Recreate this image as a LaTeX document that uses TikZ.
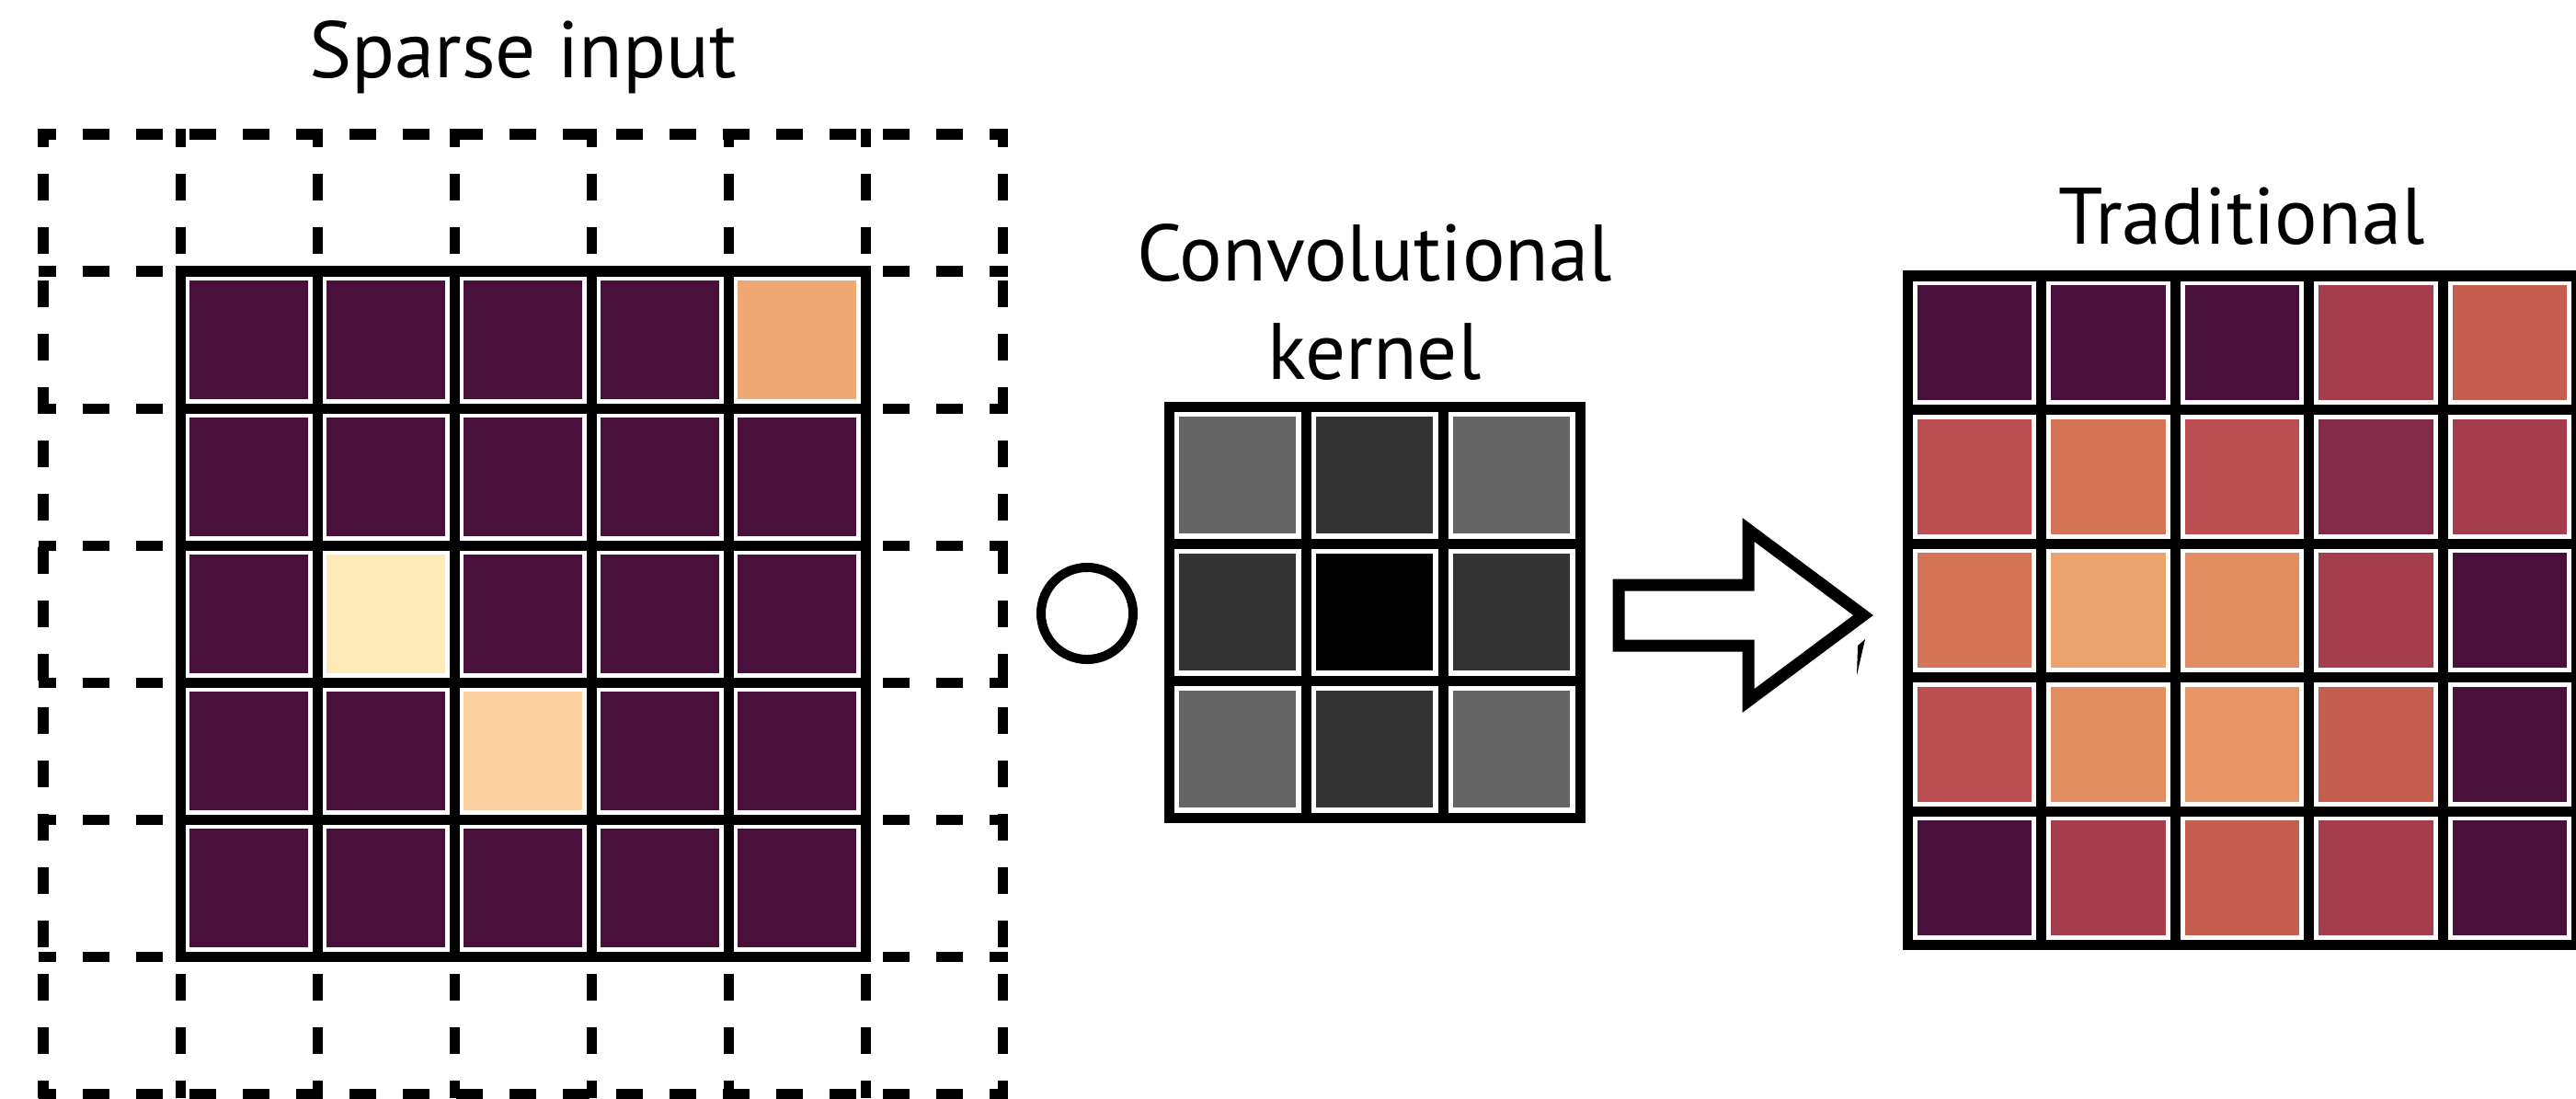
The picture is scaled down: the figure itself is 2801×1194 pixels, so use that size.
\documentclass[tikz,border=0pt]{standalone}
\usepackage{fontspec}
\setmainfont{PT Sans}
\usetikzlibrary{positioning}

\definecolor{inkdark}{HTML}{49103B}
\definecolor{inkpeach}{HTML}{F0A875}
\definecolor{inkcream}{HTML}{FEEAB8}
\definecolor{inksand}{HTML}{FBCF9E}
\definecolor{kgrey}{HTML}{656565}
\definecolor{kdark}{HTML}{333333}
\definecolor{rose}{HTML}{A63D4D}
\definecolor{coral}{HTML}{C45E4E}
\definecolor{brick}{HTML}{BC4E51}
\definecolor{tangerine}{HTML}{D57455}
\definecolor{apricot}{HTML}{ECA26D}
\definecolor{salmon}{HTML}{E28C61}
\definecolor{melon}{HTML}{E79466}
\definecolor{plum}{HTML}{832A48}

\tikzset{
  grid line/.style={line width=0.11cm, line cap=rect},
  dash line/.style={line width=0.11cm, dash pattern=on 0.29cm off 0.29cm, dash phase=0.1cm},
  pixel/.style={draw=white, line width=0.03cm, inner sep=0pt, outer sep=0pt, minimum size=#1},
  title/.style={font=\fontsize{24.75}{30.2}\selectfont, anchor=base, inner sep=0pt}
}

\begin{document}
\begin{tikzpicture}[x=0.01cm, y=-0.01cm]
  \useasboundingbox (0,0) rectangle (2801,1194);
  \clip (0,0) rectangle (2801,1194);

  % sparse input
  \foreach \i in {0,...,7} {
    \draw[dash line] ({47+149*\i},140.5) -- ({47+149*\i},1194);
    \draw[dash line] (41.5,{146+149*\i}) -- (1095.5,{146+149*\i});
  }
  \foreach \row [count=\r from 0] in {{inkdark,inkdark,inkdark,inkdark,inkpeach},
      {inkdark,inkdark,inkdark,inkdark,inkdark},{inkdark,inkcream,inkdark,inkdark,inkdark},
      {inkdark,inkdark,inksand,inkdark,inkdark},{inkdark,inkdark,inkdark,inkdark,inkdark}}
    \foreach \c [count=\k from 0] in \row
      \node[pixel=1.31cm, fill=\c] (in-\r-\k) at ({270.5+149*\k},{369.5+149*\r}) {};
  \foreach \i in {0,...,5} {
    \draw[grid line] ({196+149*\i},295) -- ({196+149*\i},1040);
    \draw[grid line] (196,{295+149*\i}) -- (941,{295+149*\i});
  }
  \node[title] (t-in) at (568.5,85) {Sparse input};

  % operator
  \node[draw, circle, line width=0.10cm, minimum size=1cm, inner sep=0pt] (op) at (1182,667) {};

  % kernel
  \foreach \row [count=\r from 0] in {{kgrey,kdark,kgrey},{kdark,black,kdark},{kgrey,kdark,kgrey}}
    \foreach \c [count=\k from 0] in \row
      \node[pixel=1.30cm, fill=\c] (k-\r-\k) at ({1345.5+149*\k},{516.5+149*\r}) {};
  \foreach \i in {0,...,3} {
    \draw[grid line] ({1271+149*\i},442) -- ({1271+149*\i},889);
    \draw[grid line] (1271,{442+149*\i}) -- (1718,{442+149*\i});
  }
  \node[title, align=center] (t-kern) at (1494.5,412) {Convolutional\\kernel};

  % arrow
  \draw[line width=0.13cm] (1760,636) -- (1901,636) -- (1901,576) -- (2026,669)
    -- (1901,762) -- (1901,702) -- (1760,702) -- cycle;
  \fill (2020,702) -- (2028,695) -- (2019,734) -- cycle;

  % traditional output
  \foreach \row [count=\r from 0] in {{inkdark,inkdark,inkdark,rose,coral},
      {brick,tangerine,brick,plum,rose},{tangerine,apricot,salmon,rose,inkdark},
      {brick,salmon,melon,coral,inkdark},{inkdark,rose,coral,rose,inkdark}}
    \foreach \c [count=\k from 0] in \row
      \node[pixel=1.275cm, fill=\c] (out-\r-\k) at ({2146.75+145.5*\k},{372.75+145.5*\r}) {};
  \foreach \i in {0,...,5} {
    \draw[grid line] ({2074+145.5*\i},300) -- ({2074+145.5*\i},1027.5);
    \draw[grid line] (2074,{300+145.5*\i}) -- (2801.5,{300+145.5*\i});
  }
  \node[title] (t-out) at (2437.75,265) {Traditional};
\end{tikzpicture}
\end{document}
